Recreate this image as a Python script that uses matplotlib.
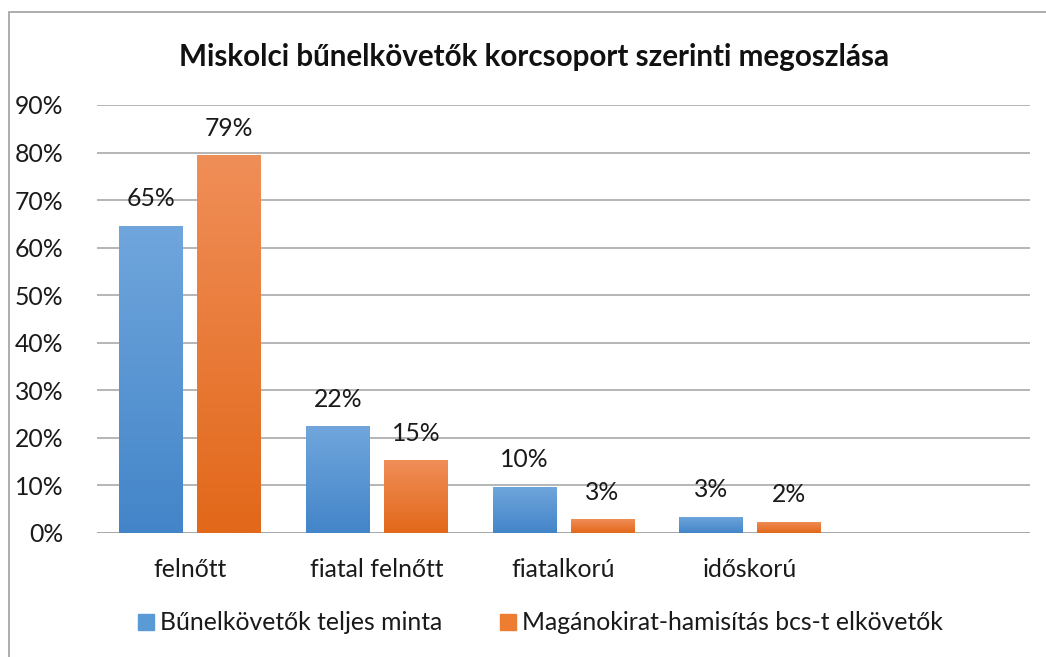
import numpy as np
import matplotlib
matplotlib.use("Agg")
import matplotlib.pyplot as plt
from matplotlib.patches import Rectangle
from matplotlib.colors import LinearSegmentedColormap

plt.rcParams['font.family'] = ['Lato', 'DejaVu Sans']

# age groups (the last slot is an empty category)
categories = ['felnőtt', 'fiatal felnőtt', 'fiatalkorú', 'időskorú', '']
teljes = [0.646, 0.224, 0.097, 0.034, np.nan]
maganokirat = [0.794, 0.153, 0.029, 0.024, np.nan]
series_names = ['Bűnelkövetők teljes minta', 'Magánokirat-hamisítás bcs-t elkövetők']
title = 'Miskolci bűnelkövetők korcsoport szerinti megoszlása'

blue_grad = LinearSegmentedColormap.from_list('b', ['#4385C9', '#70A6DC'])
orange_grad = LinearSegmentedColormap.from_list('o', ['#E2681A', '#F08E58'])

fs = 17.8

fig = plt.figure(figsize=(10.46, 6.57), dpi=100)
# outer chart border
fig.patches.append(Rectangle((9 / 1046, -0.1), 1.2, 0.1 + 1 - 12 / 657,
                             transform=fig.transFigure, fill=False,
                             edgecolor='#A0A0A0', linewidth=1.2))

ax = fig.add_axes([97 / 1046, 1 - 533 / 657, 933 / 1046, 428 / 657])
x = np.arange(len(categories))
w = 0.342
off = 0.418

def grad_bars(xs, vals, cmap):
    bars = ax.bar(xs, vals, width=w, color='none', edgecolor='none', zorder=3)
    grad = np.linspace(0, 1, 256).reshape(-1, 1)
    for b, v in zip(bars, vals):
        if np.isnan(v):
            continue
        x0 = b.get_x()
        im = ax.imshow(grad, cmap=cmap, origin='lower', aspect='auto',
                       extent=(x0, x0 + b.get_width(), 0, b.get_height()),
                       zorder=3)
        im.set_clip_path(b)
        ax.text(x0 + b.get_width() / 2, v + 0.033, f'{v * 100:.0f}%',
                ha='center', va='bottom', fontsize=fs, color='#1a1a1a', zorder=4)
    return bars

grad_bars(x - off / 2, teljes, blue_grad)
grad_bars(x + off / 2, maganokirat, orange_grad)

ax.set_xlim(-0.5, len(categories) - 0.5)
ax.set_ylim(0, 0.9)
ax.set_yticks(np.arange(0, 0.91, 0.1))
ax.set_yticklabels([f'{int(round(t * 100))}%' for t in np.arange(0, 0.91, 0.1)])
ax.set_xticks(x)
ax.set_xticklabels(categories)
ax.tick_params(axis='both', length=0, labelsize=fs, labelcolor='#1a1a1a')
ax.tick_params(axis='y', pad=24)
ax.tick_params(axis='x', pad=18)
ax.grid(axis='y', color='#B0B0B0', linewidth=1.3, zorder=0)
ax.set_axisbelow(True)
for s in ax.spines.values():
    s.set_visible(False)
ax.axhline(0, color='#A8A8A8', linewidth=1.3, zorder=2)

fig.text(534.5 / 1046, 1 - 57 / 657, title, ha='center', va='center',
         fontsize=21.3, fontweight='bold', color='#111111')

# legend squares and names
fig.patches.append(Rectangle((138 / 1046, 1 - 630 / 657), 16 / 1046, 16 / 657,
                             transform=fig.transFigure, color='#5B9BD5'))
fig.text(160 / 1046, 1 - 622 / 657, series_names[0], ha='left', va='center',
         fontsize=fs, color='#1a1a1a')
fig.patches.append(Rectangle((500 / 1046, 1 - 630 / 657), 16 / 1046, 16 / 657,
                             transform=fig.transFigure, color='#ED7D31'))
fig.text(522 / 1046, 1 - 622 / 657, series_names[1], ha='left', va='center',
         fontsize=fs, color='#1a1a1a')

fig.savefig('out.png', dpi=100)
